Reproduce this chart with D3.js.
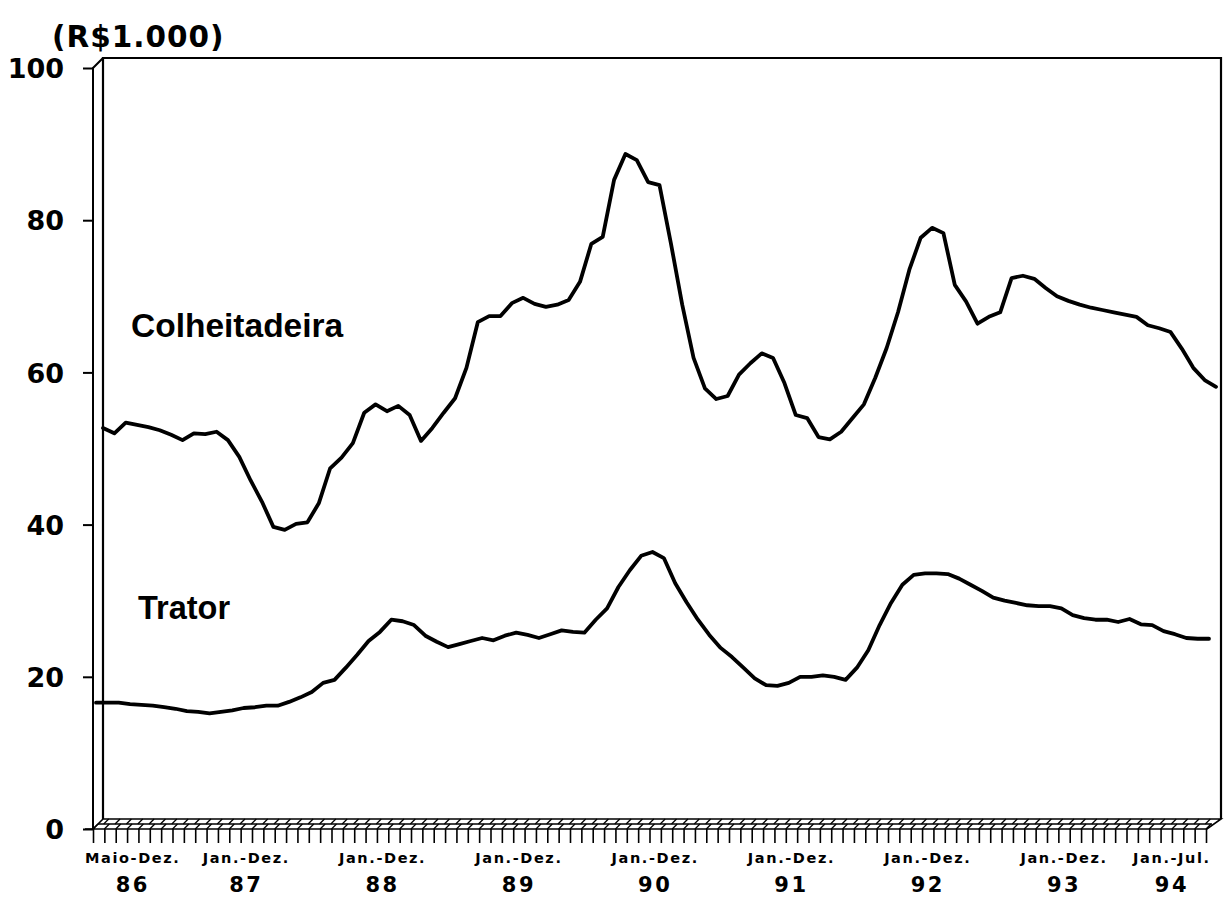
<!DOCTYPE html>
<html>
<head>
<meta charset="utf-8">
<script src="https://cdn.jsdelivr.net/npm/d3@7"></script>
<style>
  html, body { margin: 0; padding: 0; background: #fff; }
  svg { display: block; font-family: "Liberation Sans", Arial, Helvetica, sans-serif; }
</style>
</head>
<body>
<svg id="chart" width="1228" height="913"></svg>
<script>
// ---- data (monthly, May 1986 – Jul 1994), R$1.000 ----
const periodLabels = ["Maio-Dez.", "Jan.-Dez.", "Jan.-Dez.", "Jan.-Dez.", "Jan.-Dez.", "Jan.-Dez.", "Jan.-Dez.", "Jan.-Dez.", "Jan.-Jul."];
const yearLabels = ["86", "87", "88", "89", "90", "91", "92", "93", "94"];
const monthsPerPeriod = [8, 12, 12, 12, 12, 12, 12, 12, 7];
const yTicks = [0, 20, 40, 60, 80, 100];
const seriesNames = ["Colheitadeira", "Trator"];

const colheitadeira = [
  52.7, 52.0, 53.4, 53.1, 52.8, 52.4, 51.8, 51.1,
  52.0, 51.9, 52.2, 51.1, 48.9, 45.8, 43.0, 39.7, 39.3, 40.1, 40.3, 42.8,
  47.4, 48.8, 50.7, 54.7, 55.8, 54.9, 55.6, 54.4, 51.0, 52.7, 54.7, 56.6,
  60.6, 66.6, 67.4, 67.4, 69.1, 69.8, 69.0, 68.6, 68.9, 69.5, 71.9, 76.9,
  77.8, 85.3, 88.7, 87.9, 85.0, 84.6, 77.0, 68.9, 61.9, 57.9, 56.5, 56.9,
  59.7, 61.2, 62.5, 61.9, 58.6, 54.4, 54.0, 51.5, 51.2, 52.2, 54.0, 55.8,
  59.3, 63.2, 67.9, 73.5, 77.7, 79.0, 78.3, 71.5, 69.3, 66.4, 67.3, 67.9,
  72.4, 72.7, 72.3, 71.1, 70.0, 69.4, 68.9, 68.5, 68.2, 67.9, 67.6, 67.3,
  66.2, 65.8, 65.3, 63.1, 60.6, 59.0, 58.1
];
const trator = [
  16.6, 16.6, 16.6, 16.4, 16.3, 16.2, 16.0, 15.8,
  15.5, 15.4, 15.2, 15.4, 15.6, 15.9, 16.0, 16.2, 16.2, 16.7, 17.3, 18.0,
  19.2, 19.6, 21.2, 22.9, 24.7, 25.9, 27.5, 27.3, 26.8, 25.4, 24.6, 23.9,
  24.3, 24.7, 25.1, 24.8, 25.4, 25.8, 25.5, 25.1, 25.6, 26.1, 25.9, 25.8,
  27.5, 29.0, 31.8, 34.0, 35.9, 36.4, 35.6, 32.3, 29.8, 27.5, 25.5, 23.8,
  22.6, 21.2, 19.8, 18.9, 18.8, 19.2, 20.0, 20.0, 20.2, 20.0, 19.6, 21.2,
  23.5, 26.8, 29.7, 32.1, 33.4, 33.6, 33.6, 33.5, 32.9, 32.1, 31.3, 30.4,
  30.0, 29.7, 29.4, 29.3, 29.3, 29.0, 28.1, 27.7, 27.5, 27.5, 27.2, 27.6,
  26.9, 26.8, 26.0, 25.6, 25.1, 25.0, 25.0
];

// ---- layout ----
const svg = d3.select("#chart");
const wideFont = "'DejaVu Sans', Verdana, sans-serif";
const nMonths = colheitadeira.length;
const depthX = 10, depthY = 10;          // 3-D offset of the back wall
const wallLeft = 103, wallRight = 1221;   // back wall
const frontY0 = 829, frontY100 = 68;

const x = d3.scaleLinear().domain([0, nMonths - 1]).range([103, 1216]);   // back wall positions
const xFront = d3.scaleLinear().domain([0, nMonths - 1]).range([103 - depthX, 1216 - depthX]);
const y = d3.scaleLinear().domain([0, 100]).range([frontY0, frontY100]);

const frame = svg.append("g").attr("fill", "none").attr("stroke", "#000");

// back wall outline
frame.append("path")
  .attr("stroke-width", 2.2)
  .attr("d", `M${wallLeft},${frontY0 - depthY} V${frontY100 - depthY} H${wallRight} V${frontY0 - depthY}`);
// left side (front axis line + connecting diagonal)
frame.append("path")
  .attr("stroke-width", 2)
  .attr("d", `M${wallLeft - depthX},${frontY0} V${frontY100} L${wallLeft},${frontY100 - depthY}`);

// floor
const floorBack = frontY0 - depthY, floorMid = frontY0 - depthY / 2;
const xFrontRight = xFront(nMonths - 1) + 1;
frame.append("path")
  .attr("stroke-width", 1.6)
  .attr("d", `M85,${frontY0} H${xFrontRight} L${wallRight},${floorBack} H${wallLeft} L${wallLeft - depthX},${frontY0}`);
frame.append("path")
  .attr("stroke-width", 1.3)
  .attr("d", `M${wallLeft - depthX / 2},${floorMid} H${xFrontRight + depthX / 2}`);
// floor tiles (brick pattern)
const step = (x(1) - x(0));
const tiles = frame.append("g").attr("stroke-width", 1.3);
d3.range(nMonths).forEach(i => {
  const xf = xFront(i);
  tiles.append("line").attr("x1", xf).attr("y1", frontY0).attr("x2", xf + depthX / 2).attr("y2", floorMid);
  const xb = xf + depthX / 2 + step / 2;
  if (xb + depthX / 2 < wallRight) {
    tiles.append("line").attr("x1", xb).attr("y1", floorMid).attr("x2", xb + depthX / 2).attr("y2", floorBack);
  }
});

// y axis (front)
const yAxis = d3.axisLeft(y).tickValues(yTicks).tickSize(10).tickPadding(19).tickFormat(d3.format("d"));
const gy = svg.append("g").attr("transform", `translate(${wallLeft - depthX},0)`).call(yAxis);
gy.select(".domain").remove();
gy.selectAll(".tick line").attr("stroke", "#000").attr("stroke-width", 2);
gy.selectAll(".tick text")
  .attr("fill", "#000").attr("font-size", 27).attr("font-weight", "bold")
  .attr("font-family", wideFont)
  .attr("dy", "0.36em");

// x axis ticks (monthly)
const xAxis = d3.axisBottom(xFront).tickValues(d3.range(nMonths)).tickSize(14).tickFormat("");
const gx = svg.append("g").attr("transform", `translate(0,${frontY0})`).call(xAxis);
gx.select(".domain").remove();
gx.selectAll(".tick line").attr("stroke", "#000").attr("stroke-width", 1.6);

// period labels
let start = 0;
const labelG = svg.append("g").attr("font-weight", "bold").attr("fill", "#000")
  .attr("text-anchor", "middle").attr("font-family", wideFont);
monthsPerPeriod.forEach((n, k) => {
  const cx = xFront(start + (n - 1) / 2);
  labelG.append("text").attr("x", cx).attr("y", 863)
    .attr("font-size", 14.5).attr("letter-spacing", 1.6).text(periodLabels[k]);
  labelG.append("text").attr("x", cx).attr("y", 892)
    .attr("font-size", 21).attr("letter-spacing", 2.5).text(yearLabels[k]);
  start += n;
});

// unit label
svg.append("text").attr("x", 52).attr("y", 47)
  .attr("font-size", 29.5).attr("font-weight", "bold").attr("fill", "#000")
  .attr("font-family", wideFont).attr("letter-spacing", 1)
  .text("(R$1.000)");

// series lines
const line = d3.line().x((d, i) => x(i)).y(d => y(d));
const seriesG = svg.append("g").attr("fill", "none").attr("stroke", "#000")
  .attr("stroke-width", 3.8).attr("stroke-linejoin", "round").attr("stroke-linecap", "round");
seriesG.append("path").attr("d", line(colheitadeira));
seriesG.append("path").attr("transform", "translate(-7,0)").attr("d", line(trator));

// series labels
svg.append("text").attr("x", 131).attr("y", 337)
  .attr("font-size", 33.5).attr("font-weight", "bold").attr("fill", "#000").text(seriesNames[0]);
svg.append("text").attr("x", 138).attr("y", 619)
  .attr("font-size", 32.5).attr("font-weight", "bold").attr("fill", "#000").text(seriesNames[1]);
</script>
</body>
</html>
